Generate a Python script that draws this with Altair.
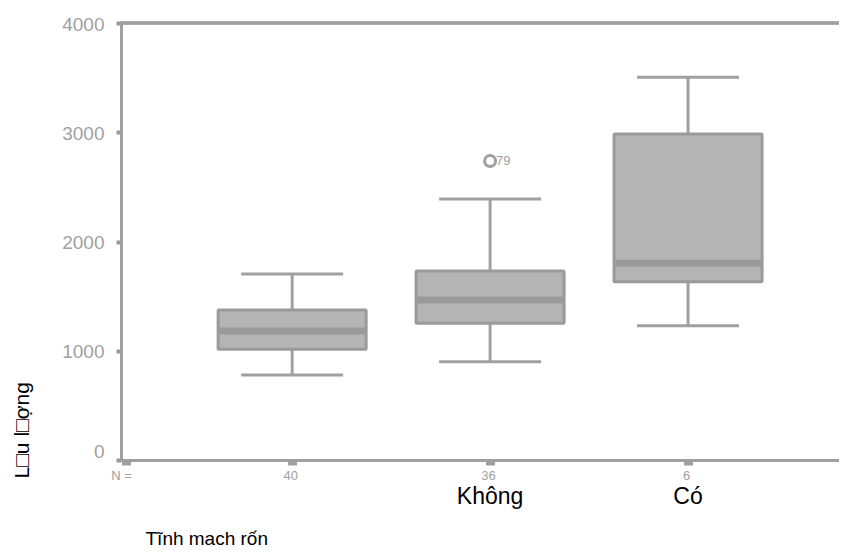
import altair as alt
import pandas as pd

# ---- data ----
groups = ["", "Không", "Có"]
positions = [1, 2, 3]
n_counts = [40, 36, 6]
whisker_low = [778, 900, 1229]
q1 = [1013, 1251, 1632]
median = [1181, 1465, 1800]
q3 = [1373, 1730, 2984]
whisker_high = [1702, 2389, 3503]
outlier_pos = [2]
outlier_value = [2737]
outlier_label = ["79"]
y_ticks = [0, 1000, 2000, 3000, 4000]

box_df = pd.DataFrame({
    "pos": positions, "group": groups, "n": n_counts,
    "lo": whisker_low, "q1": q1, "med": median, "q3": q3, "hi": whisker_high,
})
out_df = pd.DataFrame({"pos": outlier_pos, "val": outlier_value, "lab": outlier_label})

GRAY = "#a0a0a0"
FILL = "#b4b4b4"
MED = "#9a9a9a"
W, H = 718, 437
X_MIN, X_MAX = 0.1607, 3.7373

label_arr = "[" + ",".join("'%s'" % v for v in [""] + [str(n) for n in n_counts]) + "]"
x_label_expr = "datum.value < 0.5 ? 'N =' : %s[datum.value]" % label_arr

x_scale = alt.Scale(domain=[X_MIN, X_MAX], nice=False, zero=False)
y_scale = alt.Scale(domain=[0, 4000], nice=False)

X_TITLE = "Tĩnh mach rốn"
Y_TITLE = "L\u25a1u l\u25a1ợng"

x_axis = alt.Axis(
    values=[X_MIN] + positions, labelExpr=x_label_expr, labelFlush=False,
    grid=False, domainColor=GRAY, domainWidth=3, tickColor=GRAY, tickWidth=9,
    tickSize=5, labelColor=GRAY, labelFontSize=13, labelPadding=4,
    labelBaseline="top",
    labelOffset={"expr": "datum.value < 0.5 ? -5 : -2"},
    title=X_TITLE, titleFontSize=19, titleColor="black",
    titleFontWeight="normal", titleAlign="left", titleAnchor="start",
    titleX=24, titleY=84, titleBaseline="alphabetic",
)
y_axis = alt.Axis(
    values=y_ticks, format="d", grid=False, domainColor=GRAY, domainWidth=3,
    tickColor="#999999", tickWidth=4, tickSize=5, labelColor=GRAY,
    labelFontSize=19, labelPadding=12, labelBaseline="middle",
    labelOffset={"expr": "datum.value === 0 ? -9 : 1"},
    title=Y_TITLE, titleFontSize=21, titleColor="black",
    titleFontWeight="normal", titleAngle=270, titleAlign="left",
    titleBaseline="alphabetic", titleX=-93, titleY=455,
)

X = alt.X("pos:Q", scale=x_scale, axis=x_axis, title=X_TITLE)


def Y(field):
    return alt.Y(field, type="quantitative", scale=y_scale, axis=y_axis,
                 title=Y_TITLE)


base = alt.Chart(box_df)

whisk = base.mark_rule(color=GRAY, strokeWidth=3).encode(x=X, y=Y("lo"), y2="hi")
cap_lo = base.mark_tick(orient="horizontal", size=102, thickness=3, color=GRAY,
                        opacity=1).encode(x=X, y=Y("lo"))
cap_hi = base.mark_tick(orient="horizontal", size=102, thickness=3, color=GRAY,
                        opacity=1).encode(x=X, y=Y("hi"))
box = base.mark_bar(size=148, fill=FILL, stroke=MED, strokeWidth=3,
                    cornerRadius=1).encode(x=X, y=Y("q1"), y2="q3")
med = base.mark_tick(orient="horizontal", size=146, thickness=7, color=MED,
                     opacity=1).encode(x=X, y=Y("med"))

outp = alt.Chart(out_df).mark_point(shape="circle", filled=False, size=120,
                                    strokeWidth=3, color=GRAY, opacity=1).encode(
    x=X, y=Y("val"))
outt = alt.Chart(out_df).mark_text(align="left", baseline="middle", dx=6,
                                   fontSize=13, color=GRAY).encode(
    x=X, y=Y("val"), text="lab:N")

names = base.mark_text(fontSize=23, color="black", baseline="alphabetic",
                       align="center").encode(
    x=X, y=alt.value(H + 44), text="group:N")

top = base.mark_rule(color=GRAY, strokeWidth=3).encode(
    x=alt.value(0), x2=alt.value(W), y=alt.value(0))

chart = alt.layer(whisk, cap_lo, cap_hi, box, med, outp, outt, names, top).properties(
    width=W, height=H,
    autosize=alt.AutoSizeParams(type="none"),
    padding={"left": 113, "top": 15, "right": 0, "bottom": 90},
).configure(font="Liberation Sans").configure_view(stroke=None)

chart.save("out.html", embed_options={"renderer": "svg", "actions": False})
